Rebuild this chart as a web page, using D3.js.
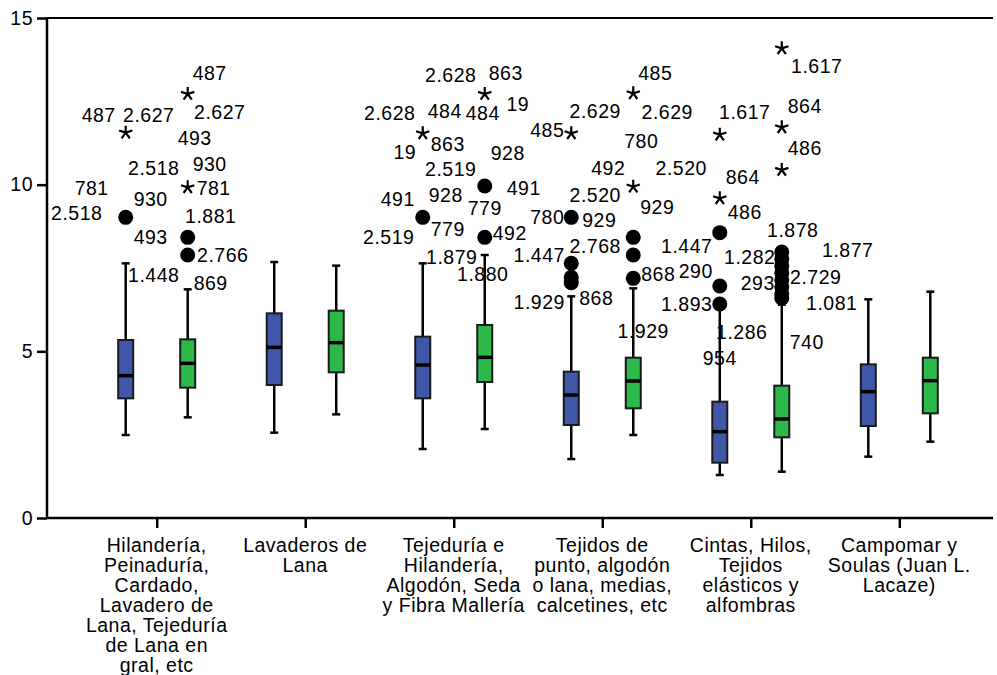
<!DOCTYPE html>
<html>
<head>
<meta charset="utf-8">
<script src="https://cdn.jsdelivr.net/npm/d3@7"></script>
<style>
  html, body { margin: 0; padding: 0; background: #fff; }
  svg { display: block; }
  text { font-family: "Liberation Sans", Arial, sans-serif; fill: #000; letter-spacing: 0.5px; }
</style>
</head>
<body>
<svg id="chart" width="997" height="675"></svg>
<script>
// Industry branches (x axis), label lines
const categories = [
  ["Hilandería,", "Peinaduría,", "Cardado,", "Lavadero de", "Lana, Tejeduría", "de Lana en", "gral, etc"],
  ["Lavaderos de", "Lana"],
  ["Tejeduría e", "Hilandería,", "Algodón, Seda", "y Fibra Mallería"],
  ["Tejidos de", "punto, algodón", "o lana, medias,", "calcetines, etc"],
  ["Cintas, Hilos,", "Tejidos", "elásticos y", "alfombras"],
  ["Campomar y", "Soulas (Juan L.", "Lacaze)"]
];
const series = ["blue", "green"];
const yTicks = [0, 5, 10, 15];

// Box statistics, first series
const loA  = [2.49, 2.56, 2.07, 1.77, 1.29, 1.84];
const q1A  = [3.59, 3.99, 3.59, 2.79, 1.66, 2.76];
const medA = [4.27, 5.12, 4.59, 3.69, 2.59, 3.79];
const q3A  = [5.34, 6.14, 5.44, 4.39, 3.49, 4.61];
const hiA  = [7.64, 7.68, 7.64, 6.65, 6.30, 6.56];
// Box statistics, second series
const loB  = [3.02, 3.11, 2.67, 2.49, 1.39, 2.29];
const q1B  = [3.91, 4.37, 4.08, 3.29, 2.42, 3.14];
const medB = [4.64, 5.26, 4.82, 4.11, 2.97, 4.12];
const q3B  = [5.36, 6.22, 5.79, 4.81, 3.97, 4.81];
const hiB  = [6.86, 7.57, 7.89, 6.89, 6.40, 6.79];

// Outliers (circles) and extremes (asterisks), per category
const outA = [[9.02], [], [9.02], [9.02, 7.64, 7.22, 7.06], [8.56, 6.96, 6.42], []];
const extA = [[11.56], [], [11.54], [11.54], [11.50, 9.59], []];
const outB = [[8.42, 7.89], [], [9.96, 8.42], [8.42, 7.89, 7.19],
              [7.98, 7.77, 7.56, 7.35, 7.14, 6.93, 6.72, 6.60], []];
const extB = [[12.72, 9.92], [], [12.72], [12.74, 9.94], [14.09, 11.72, 10.44], []];

// Case-number labels: [text, category, series, value]
const caseLabels = [
  ["487", 0, 0, 12.09], ["2.627", 0, 0, 12.09], ["2.518", 0, 0, 10.50], ["781", 0, 0, 9.90],
  ["930", 0, 0, 9.57], ["2.518", 0, 0, 9.15], ["493", 0, 0, 8.43], ["1.448", 0, 0, 7.29],
  ["487", 0, 1, 13.35], ["2.627", 0, 1, 12.18], ["493", 0, 1, 11.40], ["930", 0, 1, 10.62],
  ["781", 0, 1, 9.90], ["1.881", 0, 1, 9.06], ["2.766", 0, 1, 7.89], ["869", 0, 1, 7.06],
  ["2.628", 2, 0, 12.14], ["484", 2, 0, 12.21], ["19", 2, 0, 10.99], ["863", 2, 0, 11.21],
  ["2.519", 2, 0, 10.46], ["491", 2, 0, 9.57], ["928", 2, 0, 9.69], ["779", 2, 0, 8.66],
  ["2.519", 2, 0, 8.44], ["1.879", 2, 0, 7.82],
  ["2.628", 2, 1, 13.29], ["863", 2, 1, 13.36], ["484", 2, 1, 12.14], ["19", 2, 1, 12.41],
  ["928", 2, 1, 10.96], ["491", 2, 1, 9.89], ["779", 2, 1, 9.29], ["492", 2, 1, 8.54],
  ["1.880", 2, 1, 7.32],
  ["485", 3, 0, 11.64], ["2.629", 3, 0, 12.21], ["492", 3, 0, 10.49], ["2.520", 3, 0, 9.69],
  ["780", 3, 0, 9.04], ["929", 3, 0, 8.94], ["2.768", 3, 0, 8.17], ["1.447", 3, 0, 7.89],
  ["1.929", 3, 0, 6.49], ["868", 3, 0, 6.59],
  ["485", 3, 1, 13.36], ["2.629", 3, 1, 12.19], ["780", 3, 1, 11.32], ["2.520", 3, 1, 10.49],
  ["929", 3, 1, 9.34], ["868", 3, 1, 7.31], ["1.929", 3, 1, 5.62],
  ["1.617", 4, 0, 12.19], ["864", 4, 0, 10.24], ["486", 4, 0, 9.19], ["1.447", 4, 0, 8.16],
  ["290", 4, 0, 7.42], ["1.893", 4, 0, 6.42], ["1.286", 4, 0, 5.57], ["954", 4, 0, 4.79],
  ["1.617", 4, 1, 13.57], ["864", 4, 1, 12.36], ["486", 4, 1, 11.09], ["1.878", 4, 1, 8.64],
  ["1.282", 4, 1, 7.84], ["293", 4, 1, 7.04], ["2.729", 4, 1, 7.24], ["740", 4, 1, 5.29],
  ["1.877", 4, 1, 8.04], ["1.081", 4, 1, 6.46]
];
// Horizontal offsets (px) of each case label from its box centre, same order
const caseLabelDx = [
  -27, 23, 28, -34, 25, -49, 25, 28,
  22, 32, 7, 22, 26, 23, 35, 23,
  -33, 22, -18, 25, 28, -25, 23, 25, -34, 29,
  -34, 21, -2, 33, 23, 39, 0, 25, -2,
  -24, 24, 37, 24, -24, 28, 24, -32, -32, 25,
  22, 34, 8, 48, 24, 25, 10,
  25, 23, 25, -33, -24, -33, 22, 0,
  35, 23, 23, 11, -32, -24, 34, 25, 66, 50
];

const colors = { blue: "#3F57A8", green: "#2DB84A" };
const fontSize = 19.5;

const svg = d3.select("#chart");
const plotLeft = 47, plotRight = 993, plotTop = 18, plotBottom = 518;

const y = d3.scaleLinear().domain([0, 15]).range([plotBottom, plotTop]);
const x = d3.scalePoint().domain(d3.range(categories.length)).range([156.7, 899.3]);
const xs = d3.scalePoint().domain(series).range([-31, 31]);

// frame: top line
svg.append("line").attr("x1", plotLeft).attr("x2", plotRight).attr("y1", plotTop).attr("y2", plotTop)
  .attr("stroke", "#000").attr("stroke-width", 2);

// y axis
const yAxis = svg.append("g").attr("transform", `translate(${plotLeft},0)`)
  .call(d3.axisLeft(y).tickValues(yTicks).tickSize(10).tickPadding(4).tickFormat(d3.format("d")));
yAxis.select(".domain").attr("stroke", "#000").attr("stroke-width", 2.5).attr("d", `M0,${plotTop}V${plotBottom}`);
yAxis.selectAll(".tick line").attr("stroke", "#000").attr("stroke-width", 2.5);
yAxis.selectAll(".tick text").attr("font-size", fontSize).attr("fill", "#000")
  .attr("font-family", "Liberation Sans, Arial, sans-serif");

// x axis
const xAxis = svg.append("g").attr("transform", `translate(0,${plotBottom})`)
  .call(d3.axisBottom(x).tickSize(10).tickFormat(""));
xAxis.select(".domain").attr("stroke", "#000").attr("stroke-width", 2.5).attr("d", `M${plotLeft},0H${plotRight}`);
xAxis.selectAll(".tick line").attr("stroke", "#000").attr("stroke-width", 2.5);

// category labels
const catG = svg.append("g");
categories.forEach((lines, i) => {
  const t = catG.append("text").attr("text-anchor", "middle").attr("font-size", fontSize)
    .attr("x", x(i)).attr("y", 552);
  lines.forEach((ln, k) => {
    t.append("tspan").attr("x", x(i)).attr("dy", k === 0 ? 0 : 20).text(ln);
  });
});

// box-plot records
const stats = [];
categories.forEach((_, i) => {
  stats.push({ cat: i, s: "blue", lo: loA[i], q1: q1A[i], med: medA[i], q3: q3A[i], hi: hiA[i], out: outA[i], ext: extA[i] });
  stats.push({ cat: i, s: "green", lo: loB[i], q1: q1B[i], med: medB[i], q3: q3B[i], hi: hiB[i], out: outB[i], ext: extB[i] });
});
const cx = d => x(d.cat) + xs(d.s);
const boxW = 15, capW = 8;

const g = svg.append("g");
const box = g.selectAll("g.box").data(stats).join("g").attr("class", "box");

// whiskers
box.append("line").attr("x1", cx).attr("x2", cx).attr("y1", d => y(d.hi)).attr("y2", d => y(d.q3))
  .attr("stroke", "#000").attr("stroke-width", 2.5);
box.append("line").attr("x1", cx).attr("x2", cx).attr("y1", d => y(d.q1)).attr("y2", d => y(d.lo))
  .attr("stroke", "#000").attr("stroke-width", 2.5);
box.append("line").attr("x1", d => cx(d) - capW / 2).attr("x2", d => cx(d) + capW / 2)
  .attr("y1", d => y(d.hi)).attr("y2", d => y(d.hi)).attr("stroke", "#000").attr("stroke-width", 2.5);
box.append("line").attr("x1", d => cx(d) - capW / 2).attr("x2", d => cx(d) + capW / 2)
  .attr("y1", d => y(d.lo)).attr("y2", d => y(d.lo)).attr("stroke", "#000").attr("stroke-width", 2.5);

// boxes
box.append("rect").attr("x", d => cx(d) - boxW / 2).attr("width", boxW)
  .attr("y", d => y(d.q3)).attr("height", d => y(d.q1) - y(d.q3))
  .attr("fill", d => colors[d.s]).attr("stroke", "#1a1a1a").attr("stroke-width", 2);
box.append("line").attr("x1", d => cx(d) - boxW / 2).attr("x2", d => cx(d) + boxW / 2)
  .attr("y1", d => y(d.med)).attr("y2", d => y(d.med)).attr("stroke", "#000").attr("stroke-width", 3.5);

// outliers
box.each(function (d) {
  const sel = d3.select(this);
  sel.selectAll("circle.out").data(d.out).join("circle").attr("class", "out")
    .attr("cx", cx(d)).attr("cy", v => y(v)).attr("r", 7.5).attr("fill", "#000");
  // five-armed asterisk for extremes
  const arm = 7;
  const path = d3.range(5).map(k => {
    const a = -Math.PI / 2 + k * 2 * Math.PI / 5;
    return `M0,0L${(arm * Math.cos(a)).toFixed(2)},${(arm * Math.sin(a)).toFixed(2)}`;
  }).join("");
  sel.selectAll("path.ext").data(d.ext).join("path").attr("class", "ext")
    .attr("transform", v => `translate(${cx(d)},${y(v)})`).attr("d", path)
    .attr("stroke", "#000").attr("stroke-width", 2.2).attr("fill", "none");
});

// case labels
svg.append("g").selectAll("text").data(caseLabels).join("text")
  .attr("font-size", fontSize).attr("text-anchor", "middle").attr("dominant-baseline", "central")
  .attr("x", (d, i) => x(d[1]) + xs(series[d[2]]) + caseLabelDx[i])
  .attr("y", d => y(d[3]))
  .text(d => d[0]);
</script>
</body>
</html>
